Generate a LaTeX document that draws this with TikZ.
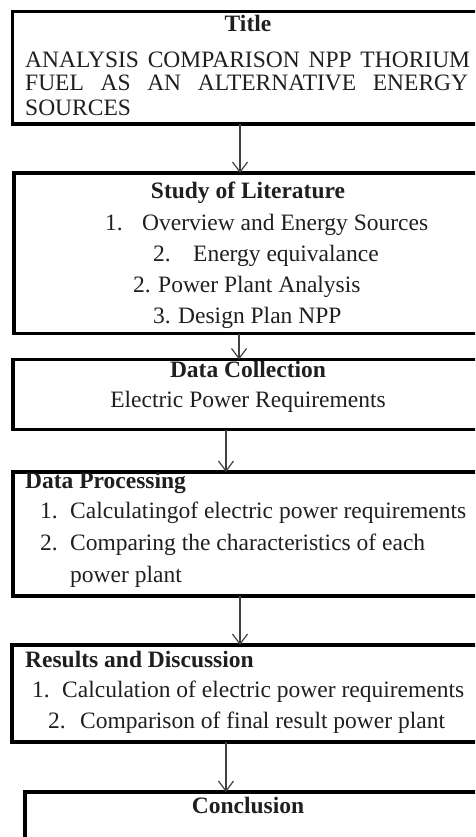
\documentclass[tikz,border=0pt]{standalone}
\usepackage{fontspec}
\setmainfont{LiberationSerif}[Extension=.ttf, UprightFont=*-Regular, BoldFont=*-Bold, ItalicFont=*-Italic, BoldItalicFont=*-BoldItalic]
\usetikzlibrary{arrows.meta}
\definecolor{ink}{gray}{0.12}
\tikzset{
    box/.style={draw=black, line width=3.2pt, anchor=north west, outer sep=0pt, inner sep=0pt},
    flow/.style={black!75, line width=1.2pt, -{Straight Barb[length=10pt,width=15pt]}},
    txt/.style={anchor=base west, inner sep=0pt, text=ink, font=\fontsize{23.5}{28}\selectfont},
    head/.style={txt, font=\fontsize{23.5}{28}\selectfont\bfseries},
    mid/.style={anchor=base}
}
\begin{document}
\begin{tikzpicture}[x=1pt, y=-1pt]
                \useasboundingbox (0,0) rectangle (475,837);
                \clip (0,0) rectangle (475,837);
                % the six stages, running off the right edge
                \foreach \name/\x/\top/\bot in {title/12.5/11.5/124, study/14/173/333.5, collect/13/359.5/429.5,
                    process/13/472/596, results/12/645/742, concl/25/792/900} {
                    \node[box, minimum width={(490-\x)*1pt}, minimum height={(\bot-\top)*1pt}] (\name) at (\x,\top) {};
                }
                % arrows between stages
                \foreach \a/\b/\x in {title/study/240, study/collect/239, collect/process/226,
                    process/results/240, results/concl/226} {
                    \draw[flow] (\a.south -| \x,0) -- (\b.north -| \x,0);
                }
                % headings
                \node[head, mid] (t-head) at (248,32) {Title};
                \node[head, mid] (s-head) at (248,198) {Study of Literature};
                \node[head, mid] (c-head) at (248,377) {Data Collection};
                \node[head] (p-head) at (25,488) {Data Processing};
                \node[head] (r-head) at (25,667) {Results and Discussion};
                \node[head, mid] (k-head) at (248,813) {Conclusion};
                % title text
                \node[txt] (t-1) at (25,68) {\makebox[445pt][s]{ANALYSIS COMPARISON NPP THORIUM}};
                \node[txt] (t-2) at (25,91) {\makebox[443pt][s]{FUEL AS AN ALTERNATIVE ENERGY}};
                \node[txt] (t-3) at (25,116) {SOURCES};
                \node[txt, mid] (c-1) at (248,407) {Electric Power Requirements};
                % numbered items: baseline, number, text
                \foreach \y/\xn/\num/\xt/\entry in {230/105/1./142/Overview and Energy Sources,
                    261/153/2./193/Energy equivalance, 292/133/2./158/Power Plant Analysis,
                    323/153/3./178/Design Plan NPP,
                    518/40/1./70/Calculatingof electric power requirements,
                    550/40/2./70/Comparing the characteristics of each,
                    582/40//70/power plant,
                    697/32/1./62/Calculation of electric power requirements,
                    728/48/2./80/Comparison of final result power plant} {
                    \node[txt] at (\xn,\y) {\num};
                    \node[txt] at (\xt,\y) {\entry};
                }
            \end{tikzpicture}
\end{document}
